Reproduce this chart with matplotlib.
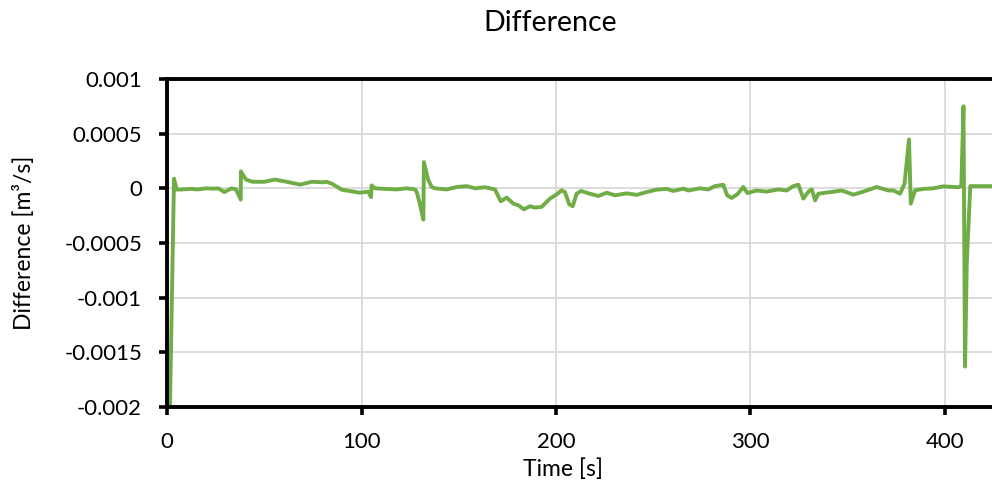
import numpy as np
import matplotlib.pyplot as plt

plt.rcParams['font.family'] = ['Lato', 'DejaVu Sans']

# time [s] and difference [m3/s]
time = [1.5, 3.6, 5.0, 8, 12, 16, 20, 24, 26.4, 29.5, 33.2, 35.5, 37.9, 38.0,
        40.6, 44, 50, 55.5, 61.5, 68.4, 74.4, 80.4, 82, 84.7, 89.8, 92.4, 99.2,
        103.5, 104.9, 105.2, 107, 112, 118, 123.2, 127.5, 128.4, 130, 131.8, 132.1,
        133.5, 134.4, 136.1, 137.8, 143.8, 149, 154.1, 158.4, 163.5, 168.6, 171.6,
        174.6, 178.1, 180.6, 183.5, 186.6, 189.2, 192.6, 196.9, 200.4, 202.9,
        204.6, 206.8, 208.6, 210.6, 212.9, 217.5, 221.8, 226.1, 230.3, 236.3,
        241.5, 246.6, 251.8, 256.9, 260.3, 265.5, 268, 274, 278.3, 281.7, 286,
        288, 290.3, 293.2, 296.3, 298.4, 303.2, 308.3, 314.3, 318.6, 322, 324.6,
        327.2, 329.8, 331.5, 333.2, 334.9, 340.9, 346.9, 352.9, 358, 364.9,
        370.9, 373.5, 376.9, 379.2, 381.5, 382.4, 384.6, 388.9, 394, 399.1,
        406.8, 408.4, 409.5, 410.3, 411.2, 413.0, 418, 430]
diff = [-0.00202, 0.000088, -0.000012, -0.00001, -0.000005, -0.00001, 0.0, -0.000003,
        0.0, -0.000034, 0.0, -0.00001, -0.000103, 0.000155,
        0.00008, 0.00006, 0.00006, 0.00008, 0.00006, 0.000034, 0.00006, 0.000055,
        0.00006, 0.000043, -0.000012, -0.00002, -0.00004,
        -0.00003, -0.00008, 0.000027, 0.0, -0.000005, -0.00001, 0.0, -0.00001,
        -0.000034, -0.00014, -0.000286, 0.00024,
        0.000134, 0.000073, 0.000012, 0.0, -0.00001, 0.000012, 0.00002, 0.0,
        0.00001, -0.00001, -0.000119,
        -0.000085, -0.00014, -0.000155, -0.000192, -0.000164, -0.000176, -0.00017,
        -0.000094, -0.000055, -0.000018,
        -0.000034, -0.000146, -0.000164, -0.000049, -0.000024, -0.00005, -0.00007,
        -0.00004, -0.000064, -0.000046,
        -0.00006, -0.000034, -0.000012, -0.000005, -0.000024, -0.000003, -0.00002,
        0.0, -0.00001, 0.00002, 0.000033,
        -0.000064, -0.000088, -0.000055, 0.000012, -0.000043, -0.00002, -0.00003,
        -0.00001, -0.00002, 0.00002, 0.000033,
        -0.000094, -0.00003, -0.00001, -0.00011, -0.000049, -0.000035, -0.00002,
        -0.000058, -0.00003, 0.000012,
        -0.00002, -0.00002, -0.000049, 0.000043, 0.000447, -0.00014, -0.000018,
        -0.000005, 0.0, 0.000018,
        0.00001, 0.00002, 0.00075, -0.00163, -0.00068, 0.00002, 0.00002, 0.00002]

yticks = [0.001, 0.0005, 0, -0.0005, -0.001, -0.0015, -0.002]
ytick_labels = ['0.001', '0.0005', '0', '-0.0005', '-0.001', '-0.0015', '-0.002']
xticks = [0, 100, 200, 300, 400]

fig = plt.figure(figsize=(9.92, 4.84), dpi=100)
# plot area runs past the right edge of the picture, as in the reference
ax = fig.add_axes([167 / 992, 1 - 407 / 484, 835 / 992, 328 / 484])

ax.plot(time, diff, color='#70AD47', lw=2.8, solid_joinstyle='round')

ax.set_xlim(0, 835 / 1.945)
ax.set_ylim(-0.002, 0.001)
ax.set_yticks(yticks)
ax.set_yticklabels(ytick_labels)
ax.set_xticks(xticks)
ax.grid(True, color='#d9d9d9', lw=1.3)
ax.set_axisbelow(True)

for side in ['left', 'bottom', 'top', 'right']:
    ax.spines[side].set_linewidth(2.8)
    ax.spines[side].set_color('black')
ax.tick_params(axis='both', direction='out', length=6, width=2.6, labelsize=16,
               color='black', pad=12)

ax.set_ylabel('Difference [m³/s]', fontsize=16.5, va='center')
ax.yaxis.set_label_coords(-0.171, 0.5)
ax.set_xlabel('Time [s]', fontsize=16.5, va='center')
ax.xaxis.set_label_coords((563 - 167) / 835, -0.19)

fig.text(550 / 992, 1 - 23 / 484, 'Difference', ha='center', va='center', fontsize=20.5)

fig.savefig('out.png', dpi=100)
